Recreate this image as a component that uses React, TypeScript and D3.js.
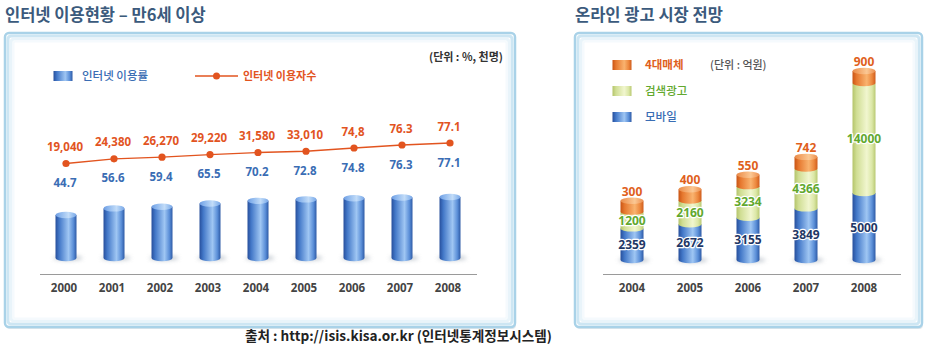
import React from 'react';
import * as d3 from 'd3';

const years1 = ['2000', '2001', '2002', '2003', '2004', '2005', '2006', '2007', '2008'];
const usageRate = [44.7, 56.6, 59.4, 65.5, 70.2, 72.8, 74.8, 76.3, 77.1];
const usageRateLabels = ['44.7', '56.6', '59.4', '65.5', '70.2', '72.8', '74.8', '76.3', '77.1'];
const userCount = [19040, 24380, 26270, 29220, 31580, 33010, 36700, 40100, 42400];
const userCountLabels = ['19,040', '24,380', '26,270', '29,220', '31,580', '33,010', '74,8', '76.3', '77.1'];

const years2 = ['2004', '2005', '2006', '2007', '2008'];
const mobile = [2359, 2672, 3155, 3849, 5000];
const search = [1200, 2160, 3234, 4366, 14000];
const media4 = [300, 400, 550, 742, 900];

const FONT = "'Noto Sans', 'Noto Sans CJK KR', sans-serif";
const KFONT = "'Noto Sans CJK KR', 'Noto Sans', sans-serif";

const C = {
  title: '#3b5a7c',
  red: '#e2541f',
  blue: '#3a6db4',
  green: '#62a82e',
  orange: '#e0601c',
  navy: '#1f3766',
  axis: '#9a9a9a',
  year: '#444',
};

function Box({ x, y, w, h }: { x: number; y: number; w: number; h: number }) {
  return (
    <g>
      <rect x={x + 1} y={y + 2} width={w} height={h} rx={4} fill="#dfe7ec" />
      <rect x={x} y={y} width={w} height={h} rx={4} fill="#ffffff" stroke="#a9d2e8" strokeWidth={2.5} />
      <rect x={x + 3} y={y + 3} width={w - 6} height={h - 6} rx={3} fill="none" stroke="#cde6f3" strokeWidth={3} />
      <rect x={x + 6} y={y + 6} width={w - 12} height={h - 12} rx={3} fill="none" stroke="#e9f4fa" strokeWidth={3} />
      <rect x={x + 8.5} y={y + 8.5} width={w - 17} height={h - 17} rx={2} fill="none" stroke="#f5fafd" strokeWidth={2} />
    </g>
  );
}

function Segment({ cx, w, yTop, yBot, grad, cap, capFill, ry = 3.5 }: any) {
  const x0 = cx - w / 2;
  const x1 = cx + w / 2;
  const rx = w / 2;
  const p = `M${x0},${yTop} L${x0},${yBot} A${rx},${ry} 0 0 0 ${x1},${yBot} L${x1},${yTop} Z`;
  return (
    <g>
      <path d={p} fill={`url(#${grad})`} />
      {cap && <ellipse cx={cx} cy={yTop} rx={rx} ry={ry} fill={`url(#${capFill})`} />}
    </g>
  );
}

function Grad({ id, stops }: { id: string; stops: string[] }) {
  const offs = [0, 0.18, 0.62, 0.85, 1];
  return (
    <linearGradient id={id} x1="0" x2="1" y1="0" y2="0">
      {stops.map((s, i) => (
        <stop key={i} offset={offs[i]} stopColor={s} />
      ))}
    </linearGradient>
  );
}

export default function App() {
  // Left chart scales
  const x1 = d3.scalePoint<string>().domain(years1).range([66, 450]);
  const yRate = d3.scaleLinear().domain([-32.8, 77.1]).range([258, 197]);
  const yUsers = d3.scaleLinear().domain([19040, 42400]).range([163.5, 143]);
  const line = d3
    .line<number>()
    .x((_, i) => x1(years1[i]) as number)
    .y((d) => yUsers(d));

  // Right chart scales
  const x2 = d3.scalePoint<string>().domain(years2).range([632, 864]);
  const base2 = 260;
  const hMobile = d3.scaleLinear().domain([0, 5000]).range([0, 67]);
  const hSearch = d3.scaleLinear().domain([-1100, 14000]).range([0, 110]);
  const hMedia = d3.scaleLinear().domain([-6000, 900]).range([0, 12]);

  const bw1 = 21;
  const bw2 = 23;

  return (
    <svg width={927} height={356} style={{ position: 'absolute', left: 0, top: 0, background: '#fff' }}>
      <defs>
        <Grad id="gBlue" stops={['#274f9c', '#4378c8', '#9fc6f3', '#5b8fd8', '#2d5aa6']} />
        <Grad id="gBlueCap" stops={['#6d9be0', '#86b2ec', '#c2dcf8', '#93bcef', '#7aa6e6']} />
        <Grad id="gGreen" stops={['#b4c46a', '#d0de94', '#f1f6cf', '#dbe7a6', '#b9c972']} />
        <Grad id="gOrange" stops={['#c95414', '#e6782f', '#f9b36f', '#ec873d', '#cf5c1c']} />
        <Grad id="gOrangeCap" stops={['#e78a4a', '#f09c5c', '#fbc894', '#f3a468', '#e98e50']} />
        <filter id="blur" x="-50%" y="-200%" width="200%" height="500%">
          <feGaussianBlur stdDeviation="2" />
        </filter>
      </defs>

      {/* Titles */}
      <text x={5} y={21} fontFamily={KFONT} fontWeight={700} fontSize={16.5} fill={C.title}>
        인터넷 이용현황 – 만6세 이상
      </text>
      <text x={575} y={21} fontFamily={KFONT} fontWeight={700} fontSize={16.5} fill={C.title}>
        온라인 광고 시장 전망
      </text>

      <Box x={5} y={33} w={510} h={294} />
      <Box x={575} y={33} w={347} h={294} />

      {/* ---------- Left chart ---------- */}
      <text x={503} y={61} textAnchor="end" fontFamily={KFONT} fontWeight={700} fontSize={11} fill="#333">
        (단위 : %, 천명)
      </text>
      {/* legend */}
      <Segment cx={63} w={19} yTop={71} yBot={81} grad="gBlue" ry={0.01} />
      <text x={82} y={80} fontFamily={KFONT} fontSize={11.5} fontWeight={500} fill={C.blue}>
        인터넷 이용률
      </text>
      <line x1={195} x2={238} y1={76} y2={76} stroke={C.red} strokeWidth={1.5} />
      <circle cx={216.5} cy={76} r={3.5} fill={C.red} />
      <text x={243} y={80} fontFamily={KFONT} fontSize={11} fontWeight={700} fill={C.red}>
        인터넷 이용자수
      </text>

      {/* bars */}
      {usageRate.map((v, i) => {
        const cx = x1(years1[i]) as number;
        return (
          <g key={years1[i]}>
            <ellipse cx={cx + 2} cy={yRate(-32.8)} rx={bw1 / 2 + 4} ry={2.5} fill="#9aa4b0" opacity={0.6} filter="url(#blur)" />
            <Segment cx={cx} w={bw1} yTop={yRate(v)} yBot={yRate(-32.8)} grad="gBlue" cap capFill="gBlueCap" ry={3.2} />
          </g>
        );
      })}

      {/* axis */}
      <line x1={40} x2={477} y1={274.5} y2={274.5} stroke={C.axis} strokeWidth={1} />
      {years1.map((y) => (
        <text key={y} x={(x1(y) as number) - 2} y={292} textAnchor="middle" fontFamily={FONT} fontWeight={700} fontSize={11.5} fill={C.year}>
          {y}
        </text>
      ))}

      {/* line */}
      <path d={line(userCount) as string} fill="none" stroke={C.red} strokeWidth={1.3} />
      {userCount.map((v, i) => {
        const cx = x1(years1[i]) as number;
        const cy = yUsers(v);
        return (
          <g key={'p' + i}>
            <circle cx={cx} cy={cy} r={3.6} fill={C.red} />
            <text x={cx - 1} y={cy - 12.5} textAnchor="middle" fontFamily={FONT} fontWeight={700} fontSize={11.5} fill={C.red}>
              {userCountLabels[i]}
            </text>
            <text x={cx - 1} y={cy + 23.5} textAnchor="middle" fontFamily={FONT} fontWeight={700} fontSize={11.5} fill={C.blue}>
              {usageRateLabels[i]}
            </text>
          </g>
        );
      })}

      {/* ---------- Right chart ---------- */}
      {/* legend */}
      <Segment cx={622} w={19} yTop={60} yBot={70} grad="gOrange" ry={0.01} />
      <text x={645} y={69} fontFamily={KFONT} fontSize={11.5} fontWeight={700} fill={C.orange}>
        4대매체
      </text>
      <text x={710} y={69} fontFamily={KFONT} fontSize={11} fontWeight={500} fill="#555">
        (단위 : 억원)
      </text>
      <Segment cx={622} w={19} yTop={86} yBot={96} grad="gGreen" ry={0.01} />
      <text x={645} y={95} fontFamily={KFONT} fontSize={11.5} fontWeight={500} fill={C.green}>
        검색광고
      </text>
      <Segment cx={622} w={19} yTop={112} yBot={122} grad="gBlue" ry={0.01} />
      <text x={645} y={121} fontFamily={KFONT} fontSize={11.5} fontWeight={500} fill={C.blue}>
        모바일
      </text>

      {years2.map((yr, i) => {
        const cx = x2(yr) as number;
        const yM = base2 - hMobile(mobile[i]);
        const yS = yM - hSearch(search[i]);
        const yO = yS - hMedia(media4[i]);
        const halo = { paintOrder: 'stroke', stroke: '#fff', strokeWidth: 2.5, strokeLinejoin: 'round' } as any;
        return (
          <g key={yr}>
            <ellipse cx={cx + 2} cy={base2} rx={bw2 / 2 + 4} ry={2.5} fill="#9aa4b0" opacity={0.6} filter="url(#blur)" />
            <Segment cx={cx} w={bw2} yTop={yM} yBot={base2} grad="gBlue" ry={3.2} />
            <Segment cx={cx} w={bw2} yTop={yS} yBot={yM} grad="gGreen" ry={3.2} />
            <Segment cx={cx} w={bw2} yTop={yO} yBot={yS} grad="gOrange" cap capFill="gOrangeCap" ry={3.2} />
            <text x={cx} y={(yM + base2) / 2 + 5} textAnchor="middle" fontFamily={FONT} fontWeight={700} fontSize={12} fill={C.navy} style={halo}>
              {mobile[i]}
            </text>
            <text x={cx} y={(yS + yM) / 2 + 4.5} textAnchor="middle" fontFamily={FONT} fontWeight={700} fontSize={12} fill={C.green} style={halo}>
              {search[i]}
            </text>
            <text x={cx} y={yO - 5} textAnchor="middle" fontFamily={FONT} fontWeight={700} fontSize={12} fill={C.orange}>
              {media4[i]}
            </text>
          </g>
        );
      })}

      <line x1={603} x2={901} y1={274.5} y2={274.5} stroke={C.axis} strokeWidth={1} />
      {years2.map((y) => (
        <text key={y} x={x2(y) as number} y={292} textAnchor="middle" fontFamily={FONT} fontWeight={700} fontSize={11.5} fill={C.year}>
          {y}
        </text>
      ))}

      {/* source */}
      <text x={245} y={341} fontFamily={KFONT} fontWeight={700} fontSize={13.6} fill="#222">
        출처 : http://isis.kisa.or.kr (인터넷통계정보시스템)
      </text>
    </svg>
  );
}
